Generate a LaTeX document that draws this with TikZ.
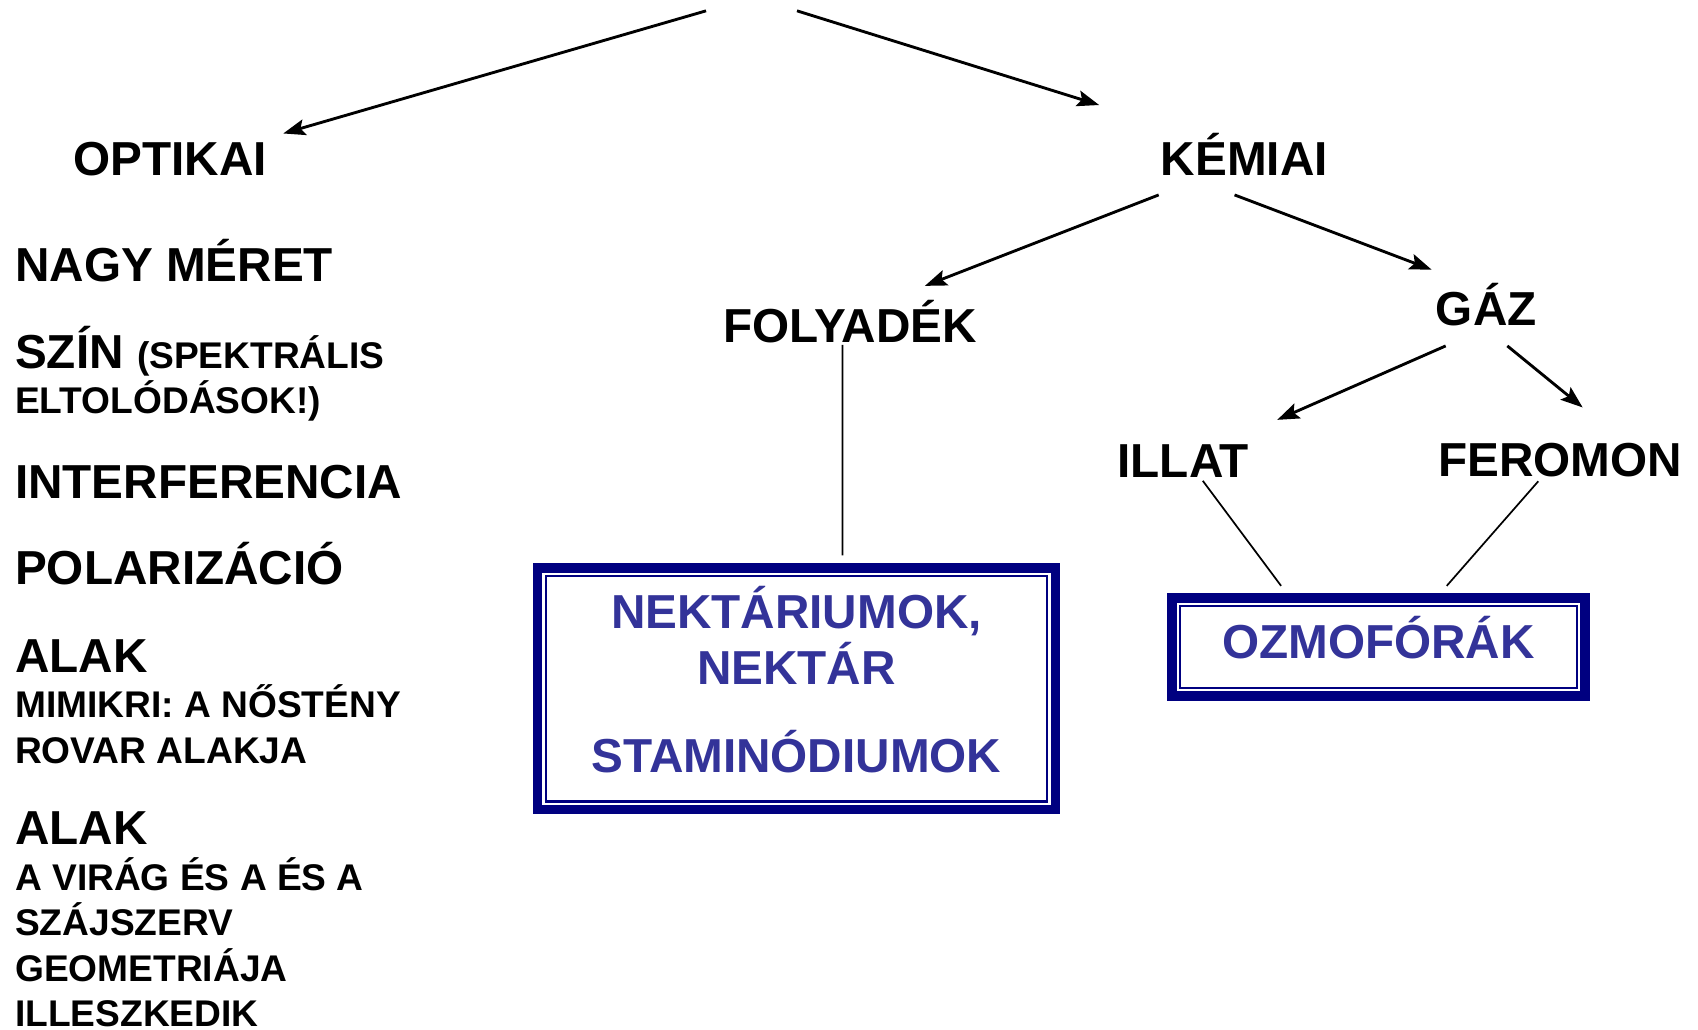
\documentclass[tikz,border=0pt]{standalone}
\usepackage{fontspec}
\setmainfont{Liberation Sans}
\usepackage{xcolor}
\usetikzlibrary{arrows.meta}
\usetikzlibrary{positioning}
\definecolor{sotetkek}{RGB}{0,0,128}
\definecolor{betukek}{RGB}{51,51,153}
\newcommand{\nagybetu}{\fontsize{12.52}{11.95}\selectfont\bfseries}
\newcommand{\kisbetu}{\fontsize{9.75}{11.95}\selectfont\bfseries}

\begin{document}
\begin{tikzpicture}[x=0.01cm,y=-0.01cm]
% paraméterek
\tikzstyle felirat=[anchor=base west,inner sep=0pt,outer sep=0pt,align=left,font=\nagybetu]
\tikzstyle nyil=[line width=0.75pt,-{Stealth[length=5.8pt,width=4.2pt,inset=1.1pt]}]
\tikzstyle vonal=[line width=0.45pt]
\tikzstyle dobozkulso=[draw=sotetkek,line width=0.09cm,inner sep=0pt,outer sep=0pt,align=center,font=\nagybetu,text=betukek]
\tikzstyle dobozbelso=[draw=sotetkek,line width=0.02cm]
\useasboundingbox (0,0) rectangle (1568,951);
% a bal oszlop (többsoros: az utolsó sor alapvonala)
\node[felirat] (optikai) at (68,162) {OPTIKAI};
\node[felirat] (nagy) at (14,260) {NAGY MÉRET};
\node[felirat] (szin) at (14,382) {SZÍN {\kisbetu(SPEKTRÁLIS}\\{\kisbetu ELTOLÓDÁSOK!)}};
\node[felirat] (interf) at (14,460) {INTERFERENCIA};
\node[felirat] (polar) at (14,540) {POLARIZÁCIÓ};
\node[felirat] (alak) at (14,705) {ALAK\\{\kisbetu MIMIKRI: A NŐSTÉNY}\\{\kisbetu ROVAR ALAKJA}};
\node[felirat] (alakvirag) at (14,948) {ALAK\\{\kisbetu A VIRÁG ÉS A ÉS A}\\{\kisbetu SZÁJSZERV}\\{\kisbetu GEOMETRIÁJA}\\{\kisbetu ILLESZKEDIK}};
% a jobb oldal
\node[felirat] (kemiai) at (1072,162) {KÉMIAI};
\node[felirat] (folyadek) at (668,316) {FOLYADÉK};
\node[felirat] (gaz) at (1326,301) {GÁZ};
\node[felirat] (illat) at (1032,441) {ILLAT};
\node[felirat] (feromon) at (1328,440) {FEROMON};
\node[dobozkulso,minimum width=4.78cm,minimum height=2.23cm] (nekt) at (735.5,636)
  {NEKTÁRIUMOK,\\[0.02cm]NEKTÁR\\[0.39cm]STAMINÓDIUMOK\rule[-0.17cm]{0pt}{0pt}};
\node[dobozkulso,minimum width=3.81cm,minimum height=0.90cm] (ozmo) at (1273,597.5)
  {OZMOFÓRÁK\rule[-0.17cm]{0pt}{0pt}};
\foreach \d in {nekt,ozmo}
  \draw[dobozbelso] ([shift={(7.5,7.5)}]\d.north west) rectangle ([shift={(-7.5,-7.5)}]\d.south east);
% a nyilak
\coordinate (fent1) at (652,10);
\coordinate (fent2) at (736,10);
\draw[nyil] (fent1) -- ([shift={(15,-8)}]optikai.north east);
\draw[nyil] (fent2) -- ([shift={(-57,-26)}]kemiai.north west);
\draw[nyil] ([shift={(-2,18)}]kemiai.south west) -- ([shift={(-48,-13)}]folyadek.north east);
\draw[nyil] ([shift={(-9,18)}]kemiai.south) -- ([shift={(-4,-13)}]gaz.north west);
\draw[nyil] ([shift={(9,18)}]gaz.south west) -- ([shift={(26,-23)}]illat.north east);
\draw[nyil] ([shift={(-27,18)}]gaz.south east) -- ([shift={(21,-33)}]feromon.north);
% a vonalak
\draw[vonal] ([shift={(-7,2)}]folyadek.south) -- ([shift={(42.5,-11.5)}]nekt.north);
\draw[vonal] ([shift={(18,3)}]illat.south) -- ([shift={(-90,-11.5)}]ozmo.north);
\draw[vonal] ([shift={(-20,4)}]feromon.south) -- ([shift={(63,-11.5)}]ozmo.north);
\end{tikzpicture}
\end{document}
